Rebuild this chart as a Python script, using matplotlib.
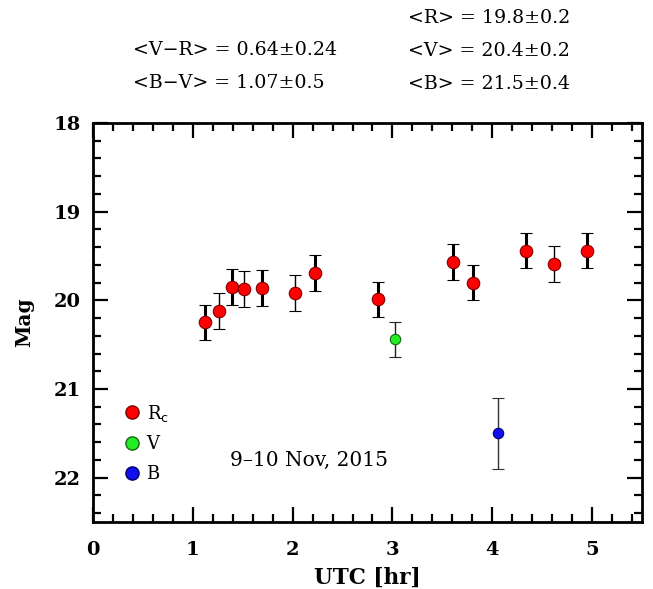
import matplotlib
matplotlib.use("Agg")
import matplotlib.pyplot as plt
from matplotlib.lines import Line2D
from matplotlib.ticker import MultipleLocator

# R_c band
r_time = [1.12, 1.26, 1.39, 1.51, 1.69, 2.02, 2.22, 2.86, 3.61, 3.81, 4.34, 4.62, 4.95]
r_mag = [20.25, 20.12, 19.85, 19.87, 19.86, 19.92, 19.69, 19.99, 19.57, 19.80, 19.44, 19.59, 19.44]
r_err = [0.2, 0.2, 0.2, 0.2, 0.2, 0.2, 0.2, 0.2, 0.2, 0.2, 0.2, 0.2, 0.2]
# V band
v_time = [3.03]
v_mag = [20.44]
v_err = [0.2]
# B band
b_time = [4.06]
b_mag = [21.50]
b_err = [0.4]

summary_left = ["<V\u2212R> = 0.64\u00b10.24", "<B\u2212V> = 1.07\u00b10.5"]
summary_right = ["<R> = 19.8\u00b10.2", "<V> = 20.4\u00b10.2", "<B> = 21.5\u00b10.4"]
date_label = "9\u201310 Nov, 2015"

# error bar weight alternates in the original (thick / thin)
r_thick = [True, False, True, False, True, False, True, True, True, True, True, False, True]

plt.rcParams["font.family"] = "DejaVu Serif"

fig = plt.figure(figsize=(6.53, 5.89), dpi=100)
ax = fig.add_axes([0.1424, 0.1138, 0.8408, 0.6774])

for t, m, e, thick in zip(r_time, r_mag, r_err, r_thick):
    ax.errorbar(t, m, yerr=e, fmt="o", color="black", ecolor="black",
                elinewidth=2.2 if thick else 1.0, capsize=4.5,
                capthick=2.2 if thick else 1.0,
                markersize=9, markerfacecolor="#ff0000",
                markeredgecolor="#800000", markeredgewidth=0.8, zorder=3)
ax.errorbar(v_time, v_mag, yerr=v_err, fmt="o", ecolor="#222222",
            elinewidth=1.0, capsize=4.5, capthick=1.0, markersize=7.5,
            markerfacecolor="#22ee22", markeredgecolor="#116611",
            markeredgewidth=0.8, zorder=3)
ax.errorbar(b_time, b_mag, yerr=b_err, fmt="o", ecolor="#333333",
            elinewidth=1.0, capsize=4.5, capthick=1.0, markersize=7.5,
            markerfacecolor="#1010ee", markeredgecolor="#000066",
            markeredgewidth=0.8, zorder=3)

ax.set_xlim(0, 5.5)
ax.set_ylim(22.5, 18)
ax.xaxis.set_major_locator(MultipleLocator(1))
ax.xaxis.set_minor_locator(MultipleLocator(0.2))
ax.yaxis.set_major_locator(MultipleLocator(1))
ax.yaxis.set_minor_locator(MultipleLocator(0.2))
ax.tick_params(which="both", direction="in", top=True, right=True, width=1.6)
ax.tick_params(which="major", length=11, labelsize=14, pad=9)
ax.tick_params(axis="x", which="major", pad=14)
ax.tick_params(which="minor", length=5.5)
for lab in ax.get_xticklabels() + ax.get_yticklabels():
    lab.set_fontweight("bold")
for sp in ax.spines.values():
    sp.set_linewidth(2)

ax.set_xlabel("UTC [hr]", fontsize=15.5, fontweight="bold", labelpad=5)
ax.set_ylabel("Mag", fontsize=14.5, fontweight="bold", labelpad=14)

handles = [
    Line2D([], [], ls="none", marker="o", markersize=9.5, markerfacecolor="#ff0000", markeredgecolor="#800000"),
    Line2D([], [], ls="none", marker="o", markersize=9.5, markerfacecolor="#22ee22", markeredgecolor="#116611"),
    Line2D([], [], ls="none", marker="o", markersize=9.5, markerfacecolor="#1010ee", markeredgecolor="#000066"),
]
ax.legend(handles, [r"R$_\mathrm{c}$", "V", "B"], loc="lower left",
          bbox_to_anchor=(0.035, 0.075), frameon=False, fontsize=13,
          handletextpad=0.2, labelspacing=0.65, borderpad=0, handlelength=1.2)

ax.text(1.37, 21.8, date_label, fontsize=14.5, va="center", ha="left")

for i, s in enumerate(summary_left):
    fig.text(133 / 653, 1 - (50 + 33 * i) / 589, s, fontsize=13.7, va="center", ha="left")
for i, s in enumerate(summary_right):
    fig.text(408 / 653, 1 - (18 + 33 * i) / 589, s, fontsize=13.7, va="center", ha="left")

fig.savefig("out.png", dpi=100)
